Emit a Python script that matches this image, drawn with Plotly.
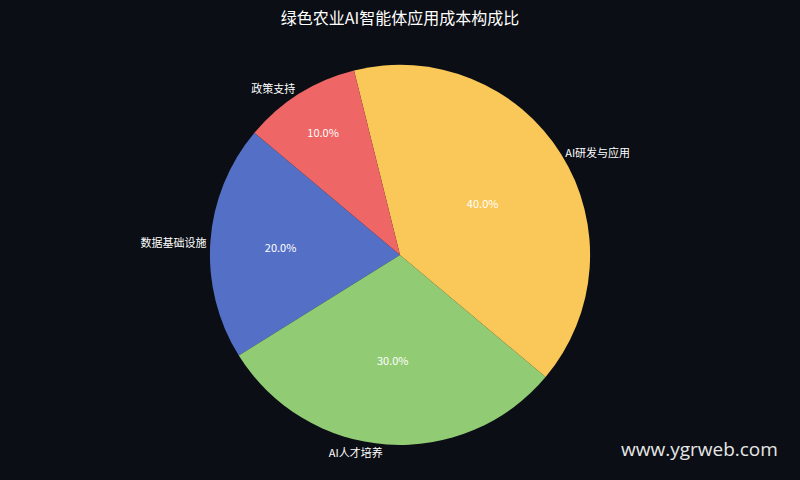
import plotly.graph_objects as go

# 绿色农业AI智能体应用成本构成比
labels = ['数据基础设施', 'AI人才培养', 'AI研发与应用', '政策支持']
values = [20, 30, 40, 10]
colors = ['#5470c6', '#91cc75', '#fac858', '#ee6666']

bg = '#0b0e14'
font_cn = 'Noto Sans CJK SC, Noto Sans, sans-serif'
dom = dict(x=[0, 1], y=[0.073, 0.865])

fig = go.Figure()

# percent labels inside the slices
fig.add_trace(go.Pie(
    labels=labels, values=values, sort=False,
    direction='counterclockwise', rotation=-122,
    marker=dict(colors=colors, line=dict(width=0)),
    textinfo='percent', texttemplate='%{percent:.1%}',
    textposition='inside', insidetextorientation='horizontal',
    textfont=dict(color='white', size=11, family=font_cn),
    domain=dom, showlegend=False, hoverinfo='label+percent',
    automargin=False,
))

# category names outside, on a see-through copy of the same pie
fig.add_trace(go.Pie(
    labels=labels, values=values, sort=False,
    direction='counterclockwise', rotation=-122,
    marker=dict(colors=['rgba(0,0,0,0)'] * 4, line=dict(width=0)),
    textinfo='label', textposition='outside',
    outsidetextfont=dict(color='white', size=11, family=font_cn),
    domain=dom, showlegend=False, hoverinfo='skip',
    automargin=False,
))

fig.update_layout(
    width=800, height=480,
    paper_bgcolor=bg, plot_bgcolor=bg,
    margin=dict(l=0, r=0, t=0, b=0, autoexpand=False),
    title=dict(text='绿色农业AI智能体应用成本构成比', x=0.5, y=0.962,
               xanchor='center', yanchor='middle',
               font=dict(color='white', size=16, family=font_cn)),
    annotations=[dict(text='www.ygrweb.com', x=0.975, y=0.065,
                      xref='paper', yref='paper', xanchor='right', yanchor='middle',
                      showarrow=False,
                      font=dict(color='#e6e6e6', size=19, family='Open Sans'))],
)

fig.write_html('out.html', config={'displayModeBar': False},
               post_script="document.body.style.margin='0';"
                           "document.body.style.background='#0b0e14';")
